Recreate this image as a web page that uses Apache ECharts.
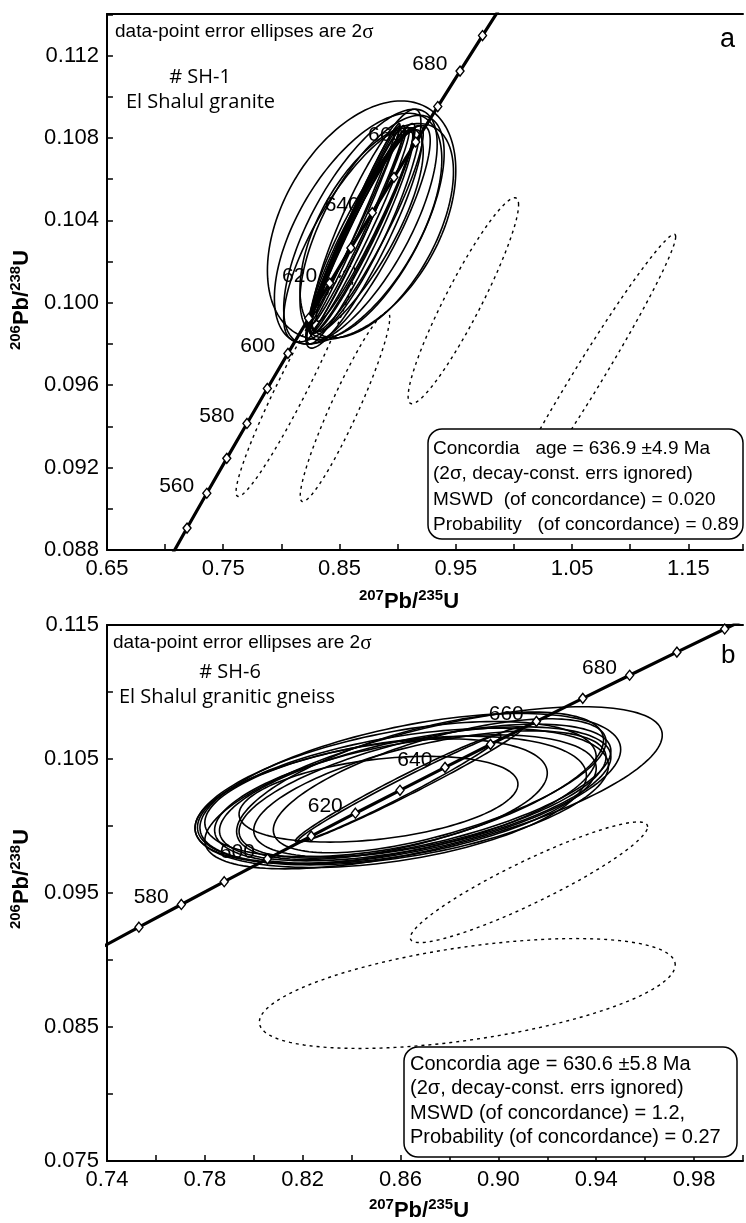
<!DOCTYPE html>
<html><head><meta charset="utf-8">
<script src="https://cdn.jsdelivr.net/npm/echarts@6/dist/echarts.min.js"></script>
<style>html,body{margin:0;padding:0;background:#fff}#c{width:746px;height:1223px}</style>
</head><body><div id="c"></div>
<script>
// Concordia reference points: age (Ma), 207Pb/235U, 206Pb/238U
const concAges = [540,550,560,570,580,590,600,610,620,630,640,650,660,670,680,690,700,710];
const concX = [0.70203,0.71887,0.73588,0.75306,0.77041,0.78794,0.80563,0.82351,0.84155,0.85978,0.87819,0.89678,0.91555,0.93450,0.95365,0.97298,0.99251,1.01223];
const concY = [0.087376,0.089064,0.090755,0.092448,0.094144,0.095843,0.097544,0.099248,0.100955,0.102664,0.104375,0.106090,0.107807,0.109527,0.111249,0.112975,0.114702,0.116433];
const labelAgesA = [560,580,600,620,640,660,680];
const labelAgesB = [580,600,620,640,660,680];

// Error ellipses: [x centre, y centre, 2σ x, 2σ y, error correlation]
const ellipsesA = [
  [0.867,0.1035,0.043,0.0050,0.97],[0.865,0.1036,0.041,0.0050,0.975],[0.869,0.1034,0.044,0.0049,0.96],
  [0.866,0.1038,0.040,0.0048,0.98],[0.870,0.1036,0.045,0.0051,0.95],[0.868,0.1032,0.046,0.0052,0.94],
  [0.872,0.1038,0.042,0.0047,0.96],[0.864,0.1033,0.043,0.0051,0.985],[0.874,0.1036,0.048,0.0050,0.92],
  [0.871,0.1031,0.050,0.0053,0.90],[0.876,0.1034,0.052,0.0052,0.86],[0.873,0.1040,0.047,0.0054,0.88],
  [0.862,0.1037,0.040,0.0050,0.985],[0.860,0.1036,0.038,0.0048,0.99],[0.863,0.1039,0.039,0.0047,0.99],
  [0.862,0.1033,0.060,0.0052,0.78],[0.868,0.1037,0.066,0.0057,0.70],[0.878,0.1037,0.062,0.0054,0.66],
  [0.882,0.1035,0.066,0.0052,0.55],[0.869,0.1040,0.081,0.0058,0.42],[0.866,0.1036,0.072,0.0056,0.60]
];
const excludedA = [
  [0.812,0.0962,0.051,0.0056,0.96],[0.8547,0.09495,0.0385,0.0046,0.94],
  [0.9565,0.1001,0.0475,0.0050,0.93],[1.0611,0.0962,0.078,0.00713,0.983]
];
const ellipsesB = [
  [0.861,0.1022,0.084,0.0051,0.45],[0.858,0.1025,0.082,0.0053,0.50],[0.866,0.1024,0.080,0.0050,0.55],
  [0.862,0.1020,0.078,0.0048,0.48],[0.870,0.1026,0.076,0.0050,0.60],[0.8735,0.10285,0.0935,0.00605,0.65],
  [0.851,0.1020,0.057,0.0032,0.35],[0.868,0.1030,0.075,0.0055,0.62],[0.856,0.1018,0.080,0.0049,0.40],
  [0.872,0.1024,0.072,0.0047,0.58],[0.864,0.1028,0.086,0.0056,0.52],[0.850,0.1021,0.070,0.0044,0.42],
  [0.876,0.1030,0.068,0.0050,0.66],[0.859,0.1028,0.042,0.0040,0.98],[0.864,0.1031,0.046,0.0043,0.985]
];
const excludedB = [
  [0.9125,0.0958,0.0485,0.0045,0.92],[0.8873,0.0875,0.085,0.0041,0.52]
];
const xLabelsA = ['0.65','0.75','0.85','0.95','1.05','1.15'];
const yLabelsA = ['0.088','0.092','0.096','0.100','0.104','0.108','0.112'];
const xLabelsB = ['0.74','0.78','0.82','0.86','0.90','0.94','0.98'];
const yLabelsB = ['0.075','0.085','0.095','0.105','0.115'];

const FONT = 'Liberation Sans, Arial, sans-serif';
const HUM = 'Open Sans, Noto Sans, sans-serif';
const chart = echarts.init(document.getElementById('c'));

function ellipseRender(dashed){
  return function(params, api){
    const cx=api.value(0), cy=api.value(1), sx=api.value(2), sy=api.value(3), r=api.value(4);
    const q=Math.sqrt(1-r*r), pts=[];
    for(let i=0;i<160;i++){
      const t=2*Math.PI*i/160;
      pts.push(api.coord([cx+sx*Math.cos(t), cy+sy*(r*Math.cos(t)+q*Math.sin(t))]));
    }
    return {type:'polygon', shape:{points:pts},
      style:{fill:'none', stroke:'#000', lineWidth: dashed?1.4:1.6, lineDash: dashed?[3,4]:null}};
  };
}
function axisBase(labels, digits, extra){
  return Object.assign({
    type:'value', scale:true,
    axisLine:{show:true, onZero:false, lineStyle:{color:'#000', width:2}},
    axisTick:{show:true, inside:true, length:6, lineStyle:{color:'#000', width:1.5}},
    splitLine:{show:false},
    axisLabel:{color:'#000', fontSize:22, fontFamily:FONT,
      formatter: v => { const s=Number(v).toFixed(digits); return labels.includes(s)?s:''; }}
  }, extra);
}
function frameAxis(grid, min, max){
  return {type:'value', gridIndex:grid, position:'top', min, max, scale:true,
    axisLine:{show:true, onZero:false, lineStyle:{color:'#000', width:2}},
    axisTick:{show:false}, axisLabel:{show:false}, splitLine:{show:false}};
}
const richName = {
  b:{fontSize:22, fontWeight:'bold', fontFamily:FONT, color:'#000', lineHeight:28, verticalAlign:'middle'},
  s:{fontSize:15, fontWeight:'bold', fontFamily:FONT, color:'#000', lineHeight:15, verticalAlign:'top'}
};
const xName = '{s|207}{b|Pb/}{s|235}{b|U}';
const yName = '{s|206}{b|Pb/}{s|238}{b|U}';

const concData = concX.map((x,i)=>[x, concY[i], concAges[i]]);
function concSeries(idx, labelAges){
  return [
    {type:'line', xAxisIndex:idx, yAxisIndex:idx, data:concData.map(d=>[d[0],d[1]]), showSymbol:false,
     symbol:'none', lineStyle:{color:'#000', width:3.2}, z:5, clip:true, silent:true},
    {type:'scatter', xAxisIndex:idx, yAxisIndex:idx, data:concData, symbol:'diamond', symbolSize:[8,10],
     itemStyle:{color:'#fff', borderColor:'#000', borderWidth:1.4, opacity:1}, z:6, clip:true, silent:true,
     label:{show:true, position:'left', distance:8, offset:[0,-7], color:'#000', opacity:1, fontSize:21, fontFamily:FONT,
       formatter: p => labelAges.includes(p.value[2]) ? String(p.value[2]) : ''}}
  ];
}

const sig = {a:{fontSize:19, fontFamily:FONT, color:'#000'}, s:{fontSize:21, fontFamily:'Liberation Serif, serif', color:'#000'}};
function txt(x,y,text,size,family,align){
  return {type:'text', x, y, z:100, style:{text, fill:'#000', fontSize:size, fontFamily:family||FONT, align:align||'left', verticalAlign:'middle'}};
}
function boxText(x,y,lines,size,lh){
  return {type:'text', x, y, z:101, style:{text:lines.join('\n'), fill:'#000', fontSize:size, fontFamily:FONT, lineHeight:lh, align:'left', verticalAlign:'top'}};
}

chart.setOption({
  animation:false,
  backgroundColor:'#fff',
  grid:[
    {left:106, top:14, right:0, height:536},
    {left:104, top:625, right:0, height:538}
  ],
  xAxis:[
    axisBase(xLabelsA, 2, {gridIndex:0, min:0.65, max:1.197, interval:0.05,
      name:xName, nameLocation:'middle', nameGap:38, nameTextStyle:{rich:richName, padding:[0,32,0,0]}}),
    axisBase(xLabelsB, 2, {gridIndex:1, min:0.74, max:1.0, interval:0.02,
      name:xName, nameLocation:'middle', nameGap:36, nameTextStyle:{rich:richName, padding:[0,12,0,0]}}),
    frameAxis(0, 0.65, 1.197),
    frameAxis(1, 0.74, 1.0)
  ],
  yAxis:[
    axisBase(yLabelsA, 3, {gridIndex:0, min:0.088, max:0.11402, interval:0.002,
      name:yName, nameLocation:'middle', nameGap:62, nameRotate:90, nameTextStyle:{rich:richName, padding:[0,36,0,0]}}),
    axisBase(yLabelsB, 3, {gridIndex:1, min:0.075, max:0.115, interval:0.005,
      name:yName, nameLocation:'middle', nameGap:62, nameRotate:90, nameTextStyle:{rich:richName, padding:[0,0,0,28]}})
  ],
  series:[
    {type:'custom', xAxisIndex:0, yAxisIndex:0, data:ellipsesA, renderItem:ellipseRender(false), clip:true, z:2, silent:true},
    {type:'custom', xAxisIndex:0, yAxisIndex:0, data:excludedA, renderItem:ellipseRender(true), clip:true, z:2, silent:true},
    {type:'custom', xAxisIndex:1, yAxisIndex:1, data:ellipsesB, renderItem:ellipseRender(false), clip:true, z:2, silent:true},
    {type:'custom', xAxisIndex:1, yAxisIndex:1, data:excludedB, renderItem:ellipseRender(true), clip:true, z:2, silent:true},
    ...concSeries(0, labelAgesA),
    ...concSeries(1, labelAgesB)
  ],
  graphic:[
    {type:'text', x:115, y:32, z:100, style:{text:'{a|data-point error ellipses are 2}{s|σ}', rich:sig, verticalAlign:'middle'}},
    txt(200,77,'# SH-1',20,HUM,'center'),
    txt(126,102,'El Shalul granite',20,HUM),
    txt(720,40,'a',27),
    {type:'rect', z:100, shape:{x:428, y:429, width:315, height:110, r:14}, style:{fill:'#fff', stroke:'#000', lineWidth:1.5}},
    boxText(433,436,['Concordia   age = 636.9 ±4.9 Ma','(2σ, decay-const. errs ignored)','MSWD  (of concordance) = 0.020','Probability   (of concordance) = 0.89'],19,25.5),

    {type:'text', x:113, y:643, z:100, style:{text:'{a|data-point error ellipses are 2}{s|σ}', rich:sig, verticalAlign:'middle'}},
    txt(230,672,'# SH-6',20,HUM,'center'),
    txt(119,697,'El Shalul granitic gneiss',20,HUM),
    txt(721,656,'b',26),
    {type:'rect', z:100, shape:{x:404, y:1047, width:333, height:110, r:14}, style:{fill:'#fff', stroke:'#000', lineWidth:1.5}},
    boxText(410,1052,['Concordia age = 630.6 ±5.8 Ma','(2σ, decay-const. errs ignored)','MSWD (of concordance) = 1.2,','Probability (of concordance) = 0.27'],20,24.5)
  ]
});
</script></body></html>
